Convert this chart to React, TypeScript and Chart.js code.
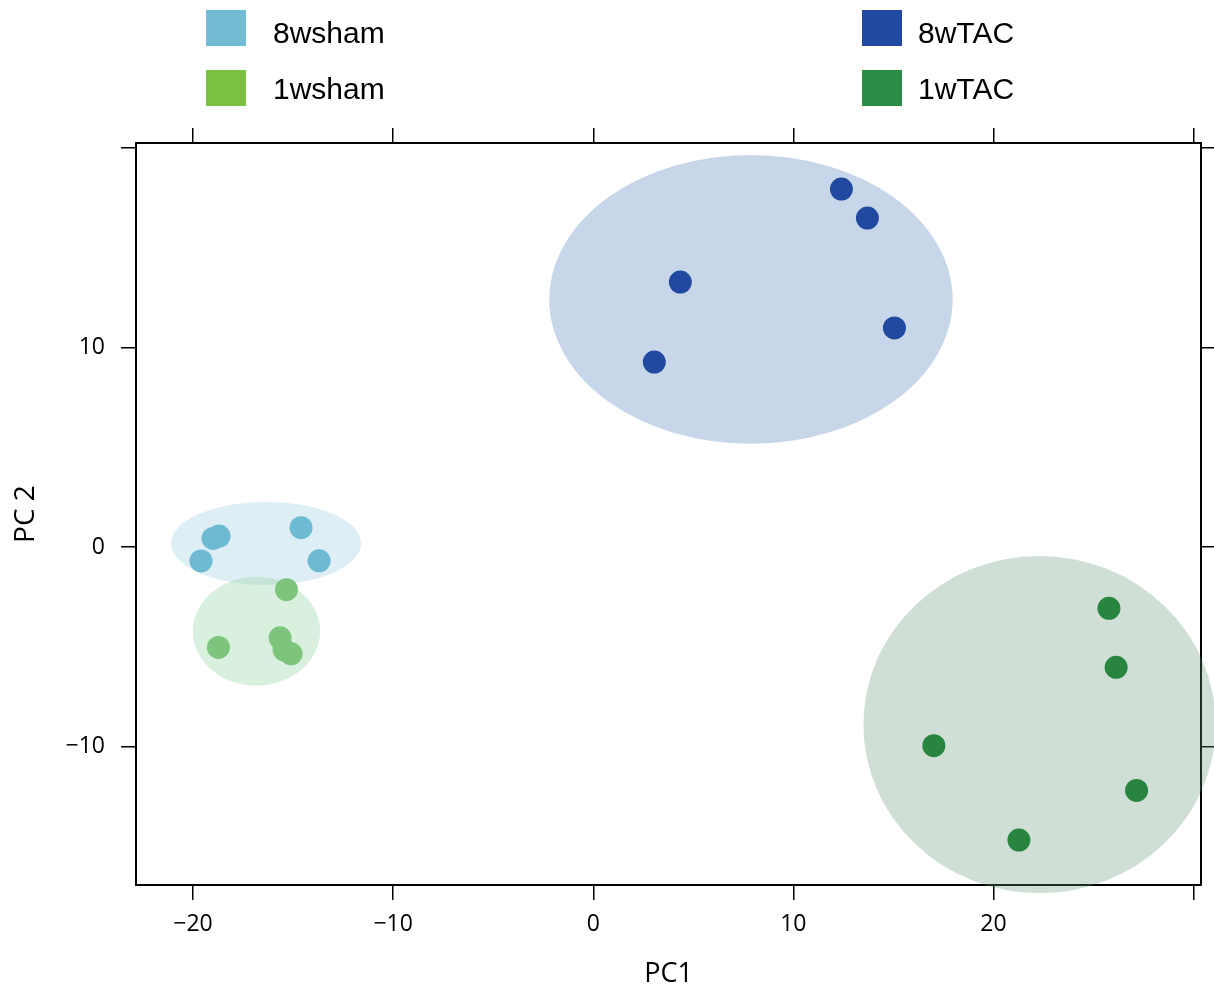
import React, { useEffect, useRef } from "react";
import { Chart, registerables } from "chart.js";

Chart.register(...registerables);

// ---- data ----
const groupNames = ["8wsham", "1wsham", "8wTAC", "1wTAC"];
const pointColors = ["#6EBAD3", "#7DC57D", "#2249A0", "#27853F"];
const legendColors = ["#72BCD5", "#7AC143", "#2249A0", "#2A8C45"];
const ellipseFills = [
  "rgba(142,198,222,0.3)",
  "rgba(132,205,145,0.3)",
  "rgba(72,118,182,0.3)",
  "rgba(95,148,115,0.3)",
];

const sham8X = [-18.7, -19.0, -19.6, -14.6, -13.7];
const sham8Y = [0.55, 0.43, -0.7, 0.97, -0.69];
const sham1X = [-15.33, -15.65, -15.45, -15.1, -18.73];
const sham1Y = [-2.14, -4.55, -5.15, -5.35, -5.03];
const tac8X = [12.4, 13.7, 4.35, 15.05, 3.05];
const tac8Y = [17.94, 16.49, 13.28, 10.98, 9.27];
const tac1X = [25.77, 26.13, 17.02, 27.15, 21.27];
const tac1Y = [-3.07, -6.03, -9.96, -12.2, -14.69];

const ellipseCx = [-16.35, -16.83, 7.88, 22.3];
const ellipseCy = [0.18, -4.22, 12.41, -8.9];
const ellipseRx = [4.75, 3.18, 10.08, 8.8];
const ellipseRy = [2.08, 2.73, 7.24, 8.45];

const xTicks = [-20, -10, 0, 10, 20, 30];
const yTicks = [-10, 0, 10, 20];
const xLabelled = [-20, -10, 0, 10, 20];
const yLabelled = [-10, 0, 10];

const X_MIN = -22.85;
const X_MAX = 30.37;
const Y_MIN = -16.94;
const Y_MAX = 20.25;

const tickFont = { family: "'Open Sans', sans-serif", size: 23 };
const fmt = (v: number) => (v < 0 ? "\u2212" + Math.abs(v) : String(v));

const zip = (xs: number[], ys: number[]) => xs.map((x, i) => ({ x, y: ys[i] }));

const ellipsePlugin = {
  id: "ellipses",
  beforeDatasetsDraw(chart: any) {
    const { ctx } = chart;
    const xs = chart.scales.x;
    const ys = chart.scales.y;
    ctx.save();
    for (let i = 0; i < ellipseCx.length; i++) {
      const cx = xs.getPixelForValue(ellipseCx[i]);
      const cy = ys.getPixelForValue(ellipseCy[i]);
      const rx = Math.abs(xs.getPixelForValue(ellipseCx[i] + ellipseRx[i]) - cx);
      const ry = Math.abs(ys.getPixelForValue(ellipseCy[i] + ellipseRy[i]) - cy);
      ctx.beginPath();
      ctx.ellipse(cx, cy, rx, ry, 0, 0, Math.PI * 2);
      ctx.fillStyle = ellipseFills[i];
      ctx.fill();
    }
    ctx.restore();
  },
};

const legendPlugin = {
  id: "gridLegend",
  afterDraw(chart: any) {
    const { ctx } = chart;
    const cols = [206, 862];
    const rows = [10, 70];
    const baselines = [43, 99];
    ctx.save();
    ctx.font = "30px 'Liberation Sans', Arial, sans-serif";
    ctx.textBaseline = "alphabetic";
    ctx.textAlign = "left";
    groupNames.forEach((name, k) => {
      const c = Math.floor(k / 2);
      const r = k % 2;
      ctx.fillStyle = legendColors[k];
      ctx.fillRect(cols[c], rows[r], 40, 36);
      ctx.fillStyle = "#000";
      ctx.fillText(name, cols[c] + (c === 0 ? 67 : 56), baselines[r]);
    });
    ctx.restore();
  },
};

const gridCommon = {
  drawOnChartArea: false,
  drawTicks: true,
  tickLength: 15,
  color: "#000",
  lineWidth: 1.5,
};
const borderCommon = { display: true, color: "#000", width: 2 };

export default function App() {
  const ref = useRef<HTMLCanvasElement | null>(null);

  useEffect(() => {
    if (!ref.current) return;
    const seriesX = [sham8X, sham1X, tac8X, tac1X];
    const seriesY = [sham8Y, sham1Y, tac8Y, tac1Y];
    const chart = new Chart(ref.current, {
      type: "scatter",
      data: {
        datasets: groupNames.map((name, i) => ({
          label: name,
          data: zip(seriesX[i], seriesY[i]),
          backgroundColor: pointColors[i],
          borderWidth: 0,
          pointRadius: 11.5,
          pointHoverRadius: 11.5,
          clip: false as any,
        })),
      },
      options: {
        animation: false,
        responsive: false,
        devicePixelRatio: 1,
        layout: { padding: 0 },
        plugins: { legend: { display: false }, tooltip: { enabled: false } },
        events: [],
        scales: {
          x: {
            type: "linear",
            position: "bottom",
            min: X_MIN,
            max: X_MAX,
            afterBuildTicks: (s: any) => {
              s.ticks = xTicks.map((v) => ({ value: v }));
            },
            afterFit: (s: any) => {
              s.height = 105;
            },
            grid: { ...gridCommon, tickLength: 15 },
            border: borderCommon,
            ticks: {
              callback: (v: any) => (xLabelled.includes(v) ? fmt(v) : ""),
              font: tickFont,
              color: "#000",
              padding: 11,
              maxRotation: 0,
              autoSkip: false,
            },
            title: {
              display: true,
              text: "PC1",
              color: "#000",
              font: { family: "'Open Sans', sans-serif", size: 27 },
              padding: { top: 0, bottom: -1 },
            },
          },
          x2: {
            type: "linear",
            position: "top",
            min: X_MIN,
            max: X_MAX,
            afterBuildTicks: (s: any) => {
              s.ticks = xTicks.map((v) => ({ value: v }));
            },
            afterFit: (s: any) => {
              s.height = 143;
            },
            grid: gridCommon,
            border: borderCommon,
            ticks: { callback: () => "", autoSkip: false },
          },
          y: {
            type: "linear",
            position: "left",
            min: Y_MIN,
            max: Y_MAX,
            afterBuildTicks: (s: any) => {
              s.ticks = yTicks.map((v) => ({ value: v }));
            },
            afterFit: (s: any) => {
              s.width = 136;
            },
            grid: gridCommon,
            border: borderCommon,
            ticks: {
              callback: (v: any) => (yLabelled.includes(v) ? fmt(v) : ""),
              font: tickFont,
              color: "#000",
              padding: 16,
              autoSkip: false,
            },
            title: {
              display: true,
              text: "PC 2",
              color: "#000",
              font: { family: "'Open Sans', sans-serif", size: 28 },
              padding: { top: 9, bottom: 0 },
            },
          },
          y2: {
            type: "linear",
            position: "right",
            min: Y_MIN,
            max: Y_MAX,
            afterBuildTicks: (s: any) => {
              s.ticks = yTicks.map((v) => ({ value: v }));
            },
            afterFit: (s: any) => {
              s.width = 13;
            },
            grid: { ...gridCommon, tickLength: 13 },
            border: borderCommon,
            ticks: { callback: () => "", autoSkip: false, padding: 0 },
          },
        },
      } as any,
      plugins: [ellipsePlugin, legendPlugin],
    });
    return () => chart.destroy();
  }, []);

  return (
    <div style={{ position: "absolute", left: 0, top: 0, width: 1214, height: 990, background: "#fff" }}>
      <canvas ref={ref} width={1214} height={990} style={{ display: "block" }} />
    </div>
  );
}
